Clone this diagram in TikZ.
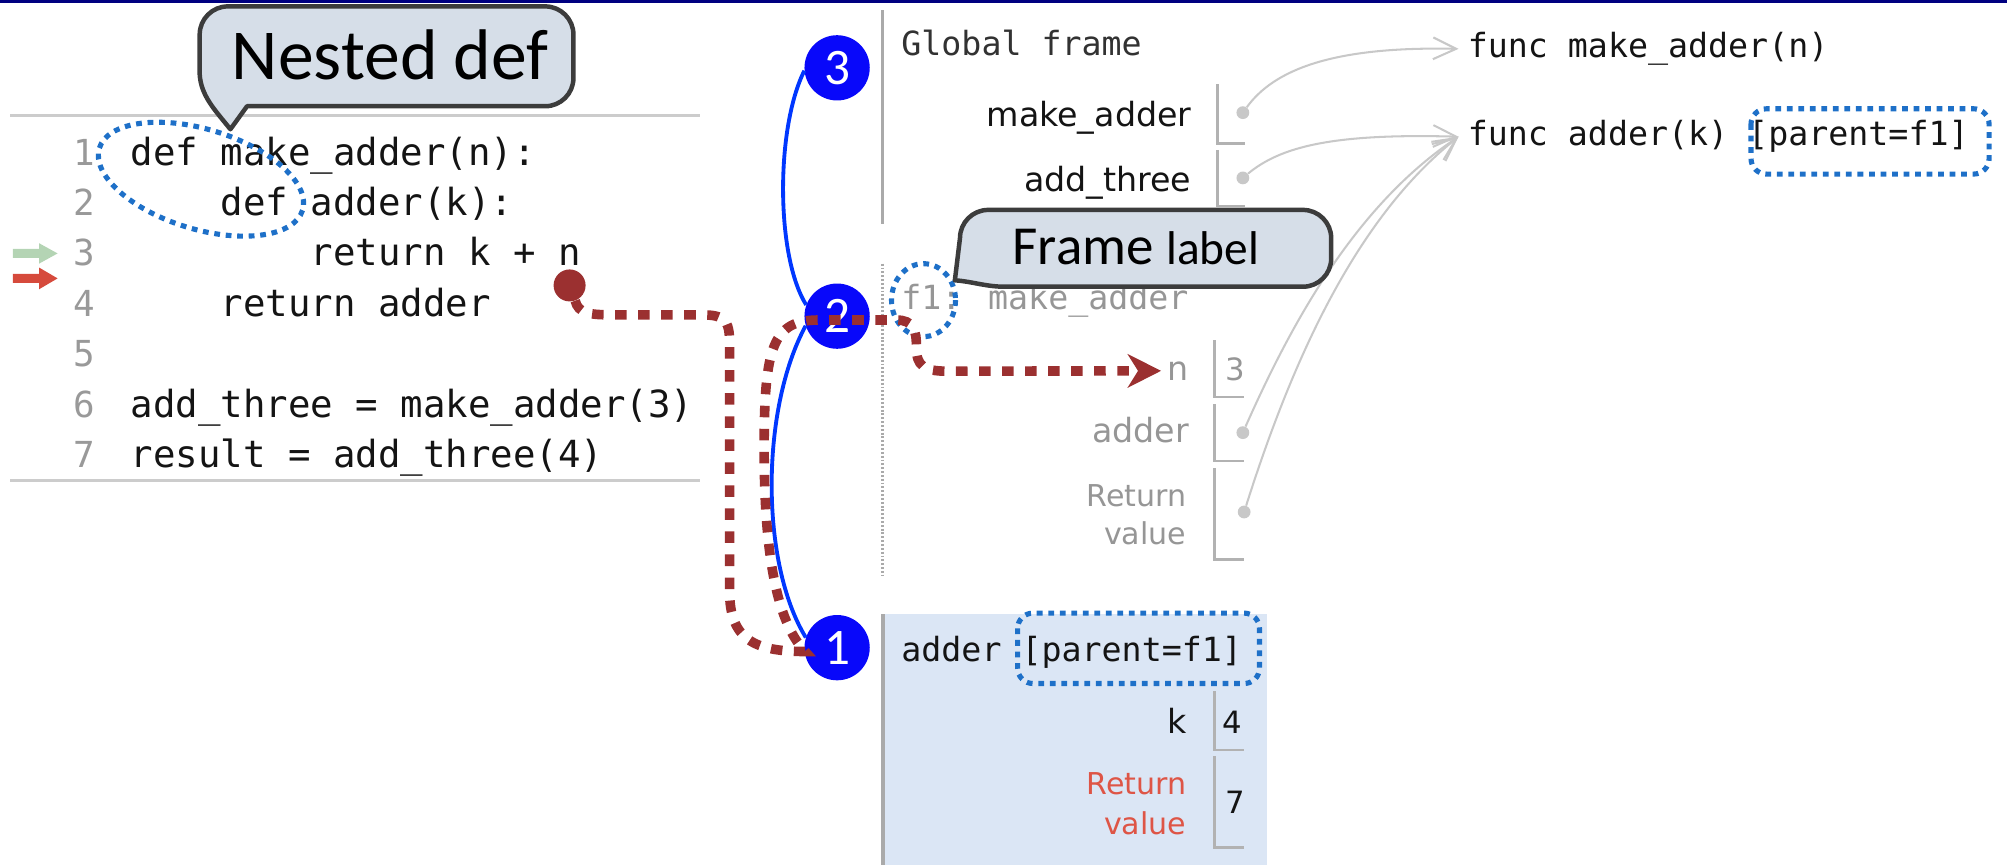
\documentclass[tikz,border=0pt]{standalone}
\usepackage{fontspec}
\usetikzlibrary{arrows.meta}
\newfontfamily\calib{Carlito}
\newfontfamily\dmono{DejaVu Sans Mono}
\newfontfamily\dsans{DejaVu Sans}
\definecolor{codedark}{RGB}{20,20,20}
\definecolor{codegray}{RGB}{153,153,153}
\definecolor{sepgray}{RGB}{204,204,204}
\definecolor{framegray}{RGB}{170,170,170}
\definecolor{bracketgray}{RGB}{178,178,178}
\definecolor{arrowgray}{RGB}{200,200,200}
\definecolor{dotgray}{RGB}{200,200,200}
\definecolor{fadedtext}{RGB}{150,150,150}
\definecolor{redpathc}{RGB}{155,48,48}
\definecolor{dotblue}{RGB}{30,112,200}
\definecolor{nodeblue}{RGB}{8,8,250}
\definecolor{curveblue}{RGB}{0,55,255}
\definecolor{calloutfill}{RGB}{214,222,232}
\definecolor{calloutdraw}{RGB}{60,60,60}
\definecolor{adderbg}{RGB}{219,230,245}
\definecolor{retred}{RGB}{222,85,70}
\definecolor{navyline}{RGB}{0,0,128}
\definecolor{greenarrow}{RGB}{180,212,180}
\definecolor{redarrow}{RGB}{214,74,60}
\begin{document}
\begin{tikzpicture}[x=1pt,y=-1pt,
  codetxt/.style={anchor=base west, inner sep=0pt, text=codedark, font=\dmono\fontsize{29.2}{35}\selectfont},
  lnum/.style={anchor=base west, inner sep=0pt, text=codegray, font=\dmono\fontsize{28}{34}\selectfont},
  monotxt/.style={anchor=base west, inner sep=0pt, text=codedark, font=\dmono\fontsize{26}{31}\selectfont},
  varname/.style={anchor=base east, inner sep=0pt, text=codedark, font=\dsans\fontsize{26}{31}\selectfont},
  retlab/.style={anchor=base east, inner sep=0pt, font=\dsans\fontsize{23.5}{28}\selectfont},
  valtxt/.style={anchor=base west, inner sep=0pt, text=codedark, font=\dsans\fontsize{24}{28}\selectfont},
  bracket/.style={draw=bracketgray, line width=2pt},
  gdot/.style={circle, fill=dotgray, minimum size=10pt, inner sep=0pt},
  garrow/.style={draw=arrowgray, line width=1.6pt, -{Straight Barb[length=18pt,width=17pt]}},
  bdotted/.style={draw=dotblue, line width=4pt, dash pattern=on 4.5pt off 4.5pt},
  bnode/.style={circle, fill=nodeblue, minimum size=51pt, inner sep=0pt, text=white, font=\calib\fontsize{40}{40}\selectfont},
  bcurve/.style={draw=curveblue, line width=3pt},
  rpath/.style={draw=redpathc, line width=7.5pt, dash pattern=on 9pt off 9pt},
  callout/.style={fill=calloutfill, draw=calloutdraw, line width=3.5pt, line join=round},
  calltxt/.style={anchor=base west, inner sep=0pt, text=black},
]
\useasboundingbox (0,0) rectangle (1568,676);
% top line
\draw[navyline, line width=2.5pt] (0,1) -- (1568,1);

% ---------------- code panel ----------------
\draw[sepgray, line width=2.5pt] (8,90) -- (547,90);
\draw[sepgray, line width=2.5pt] (8,375.5) -- (547,375.5);
\node[lnum] (l1) at (57,129) {1};
\node[lnum] (l2) at (57,168.4) {2};
\node[lnum] (l3) at (57,207.8) {3};
\node[lnum] (l4) at (57,247.2) {4};
\node[lnum] (l5) at (57,286.6) {5};
\node[lnum] (l6) at (57,326) {6};
\node[lnum] (l7) at (57,365.4) {7};
\node[codetxt] (c1) at (102,129) {def make\_adder(n):};
\node[codetxt] (c2) at (172.3,168.4) {def adder(k):};
\node[codetxt] (c3) at (242.6,207.8) {return k + n};
\node[codetxt] (c4) at (172.3,247.2) {return adder};
\node[codetxt] (c6) at (102,326) {add\_three = make\_adder(3)};
\node[codetxt] (c7) at (102,365.4) {result = add\_three(4)};
\fill[greenarrow] (10,194.5) -- (30.5,194.5) -- (30.5,190) -- (45,198) -- (30.5,206) -- (30.5,201.5) -- (10,201.5) -- cycle;
\fill[redarrow] (10,214) -- (30.5,214) -- (30.5,209) -- (45,217.5) -- (30.5,226) -- (30.5,221) -- (10,221) -- cycle;
\draw[bdotted] [rotate around={-17:(157,140)}] (157,140) ellipse (83 and 39);
\node[circle, fill=redpathc, minimum size=25pt, inner sep=0pt] (rdot) at (445,223) {};

% ---------------- global frame ----------------
\draw[framegray, line width=2.5pt] (689.5,8) -- (689.5,175);
\node[monotxt, text={rgb,255:red,50;green,50;blue,50}] (gframe) at (704,43) {Global frame};
\node[varname] (gmaname) at (931,99) {make\_adder};
\node[varname] (gatname) at (931,149.7) {add\_three};
\draw[bracket] (951,66) -- (951,112) -- (973,112);
\draw[bracket] (951,117) -- (951,161) -- (973,161);
\node[gdot] (gma) at (971,88) {};
\node[gdot] (gat) at (971,139) {};
\node[monotxt] (fmk) at (1146.5,45) {func make\_adder(n)};
\node[monotxt] (fad) at (1146.5,114) {func adder(k) [parent=f1]};
\draw[bdotted, rounded corners=12pt] (1368,85) rectangle (1554,136);

% ---------------- f1 frame ----------------
\draw[framegray, line width=2pt, dash pattern=on 1.5pt off 1.5pt] (689.5,206) -- (689.5,450);
\node[monotxt, text=fadedtext] (f1lab) at (704,242) {f1: make\_adder};
\node[varname, text=fadedtext] (fn) at (929,297) {n};
\node[valtxt, text=fadedtext] (fnval) at (957,297) {3};
\node[varname, text=fadedtext] (fadname) at (929,346) {adder};
\node[retlab, text=fadedtext] (fret1) at (927,395.7) {Return};
\node[retlab, text=fadedtext] (fret2) at (927,425.6) {value};
\draw[bracket] (949,266) -- (949,310) -- (972,310);
\draw[bracket] (949,316) -- (949,360) -- (972,360);
\draw[bracket] (949,366) -- (949,437) -- (972,437);
\node[gdot] (fad1) at (971,338) {};
\node[gdot] (fret) at (972,400) {};
\draw[bdotted] (721.5,234.5) ellipse (25 and 28.5);

% ---------------- adder frame ----------------
\fill[adderbg] (689,480) rectangle (990,676);
\draw[framegray, line width=3pt] (690,480) -- (690,676);
\node[monotxt] (alab) at (704,517) {adder [parent=f1]};
\draw[bdotted, rounded corners=12pt] (795,479) rectangle (984,534);
\node[varname] (ak) at (927,572.7) {k};
\node[valtxt] (akval) at (955,572.7) {4};
\node[retlab, text=retred] (aret1) at (927,621) {Return};
\node[retlab, text=retred] (aret2) at (927,652) {value};
\node[valtxt] (aretval) at (957,635.3) {7};
\draw[bracket] (949,540) -- (949,586) -- (972,586);
\draw[bracket] (949,591) -- (949,662) -- (972,662);

% ---------------- gray pointer arrows ----------------
\draw[garrow] (gma) .. controls (995,55) and (1040,36) .. ([xshift=-7pt]fmk.west);
\draw[garrow] (gat) .. controls (1000,115) and (1040,104) .. ([xshift=-7pt]fad.west);
\draw[garrow] (fad1) .. controls (1010,250) and (1060,160) .. ([xshift=-7pt]fad.west);
\draw[garrow] (fret) .. controls (1010,280) and (1060,170) .. ([xshift=-7pt]fad.west);

% ---------------- numbered nodes ----------------
\node[bnode] (n3) at (654,53) {3};
\node[bnode] (n2) at (654,247) {2};
\node[bnode] (n1) at (654,506) {1};
\draw[bcurve] (n3.185) .. controls (606,100) and (606,200) .. (n2.160);
\draw[bcurve] (n2.197) .. controls (594,320) and (594,440) .. (n1.162);

% ---------------- red lookup path ----------------
\draw[rpath, -{Stealth[length=26pt,width=26pt,inset=8pt]}]
 (rdot.-70) .. controls (452,245) and (460,246) .. (480,246)
 -- (548,246) .. controls (566,246) and (570,250) .. (570,268)
 -- (570,462) .. controls (570,500) and (590,509) .. (629,509)
 .. controls (606,485) and (597,430) .. (597,350)
 .. controls (597,270) and (604,250) .. (640,250)
 -- (700,250) .. controls (714,250) and (716,258) .. (716,272)
 .. controls (716,286) and (722,290) .. (740,290)
 -- ([xshift=-5pt]fn.west);

% ---------------- callouts ----------------
\draw[callout] (180,101) -- (193,83) -- (426,83) .. controls (438.1,83) and (448,73.1) .. (448,61)
  -- (448,27) .. controls (448,14.9) and (438.1,5) .. (426,5) -- (178,5)
  .. controls (165.9,5) and (156,14.9) .. (156,27) -- (156,58) .. controls (157,75) and (168,86) .. cycle;
\node[calltxt, font=\calib\fontsize{56}{60}\selectfont] (nested) at (181,62.5) {Nested def};
\draw[callout] (746,219) .. controls (760,220) and (770,224) .. (785,224) -- (1018,224)
  .. controls (1030.1,224) and (1040,214.1) .. (1040,202) -- (1040,186)
  .. controls (1040,173.9) and (1030.1,164) .. (1018,164) -- (772,164)
  .. controls (759.9,164) and (750,173.9) .. (750,186) -- cycle;
\node[calltxt] (framelab) at (791,207) {\calib\fontsize{43}{48}\selectfont Frame\ \fontsize{37}{42}\selectfont label};
\end{tikzpicture}
\end{document}
